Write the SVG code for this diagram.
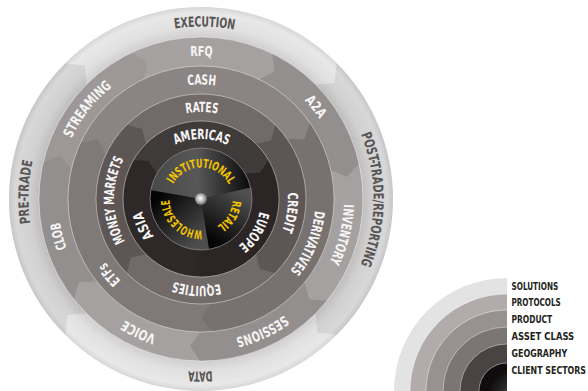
<svg xmlns="http://www.w3.org/2000/svg" xmlns:xlink="http://www.w3.org/1999/xlink" width="588" height="391" viewBox="0 0 588 391">
<style>
.t{font-family:"Liberation Sans Narrow","DejaVu Sans Condensed","Liberation Sans",sans-serif;font-weight:bold;font-size:14px;text-anchor:middle}
.w{fill:#f6f5f5}
.g{fill:#585455}
.y{fill:#f3c400;font-size:12px}
.sep{fill:none;stroke:#ffffff;stroke-opacity:.55;stroke-width:.8}
.lg{font-family:"Liberation Sans Narrow","DejaVu Sans Condensed","Liberation Sans",sans-serif;font-weight:bold;font-size:11px;fill:#231f20}
.hi{fill:#ffffff;fill-opacity:.09}
.lo{fill:#000000;fill-opacity:.06}
</style>
<defs>
<radialGradient id="g1" gradientUnits="userSpaceOnUse" cx="201" cy="199" r="192">
<stop offset="0.84" stop-color="#cbc9c9"/>
<stop offset="0.9" stop-color="#e0dfdf"/>
<stop offset="0.97" stop-color="#e7e6e6"/>
<stop offset="1" stop-color="#d4d2d2"/>
</radialGradient>
<linearGradient id="gi" gradientUnits="userSpaceOnUse" x1="-45" y1="-15" x2="48" y2="-20">
<stop offset="0" stop-color="#4a4a4a"/><stop offset="0.45" stop-color="#575757"/><stop offset="1" stop-color="#0c0c0c"/>
</linearGradient>
<linearGradient id="gr" gradientUnits="userSpaceOnUse" x1="42" y1="-6" x2="12" y2="42">
<stop offset="0" stop-color="#505050"/><stop offset="1" stop-color="#050505"/>
</linearGradient>
<linearGradient id="gw" gradientUnits="userSpaceOnUse" x1="-2" y1="44" x2="-44" y2="-2">
<stop offset="0" stop-color="#4e4e4e"/><stop offset="1" stop-color="#030303"/>
</linearGradient>
<radialGradient id="gh" cx="0.45" cy="0.45" r="0.6">
<stop offset="0" stop-color="#ffffff"/><stop offset="0.4" stop-color="#c9c9c9"/><stop offset="1" stop-color="#555555"/>
</radialGradient>
<radialGradient id="glc" gradientUnits="userSpaceOnUse" cx="520" cy="400" r="34">
<stop offset="0" stop-color="#8a8a8a"/><stop offset="0.6" stop-color="#2a2727"/><stop offset="1" stop-color="#0e0c0c"/>
</radialGradient>
<path id="c1" d="M-135.76,-135.76 A192,192 0 0 1 135.76,-135.76 L133.58,-116.12 L114.55,-114.55 A162,162 0 0 0 -114.55,-114.55 L-116.12,-133.58 Z"/>
<path id="c2" d="M-69.49,-146.34 A162,162 0 0 1 71.02,-145.6 L73.75,-127.74 L58.3,-119.54 A133,133 0 0 0 -57.05,-120.14 L-53.82,-137.33 Z"/>
<path id="c3" d="M-120.54,-56.21 A133,133 0 0 1 108.95,-76.29 L103.06,-59.5 L86.01,-60.23 A105,105 0 0 0 -95.16,-44.38 L-103.06,-59.5 Z"/>
<path id="c4" d="M-74.25,-74.25 A105,105 0 0 1 74.25,-74.25 L70.09,-58.82 L55.15,-55.15 A78,78 0 0 0 -55.15,-55.15 L-58.82,-70.09 Z"/>
<path id="c5" d="M-67.55,-39 A78,78 0 0 1 67.55,-39 L58.92,-26.23 L44.17,-25.5 A51,51 0 0 0 -44.17,-25.5 L-52.18,-37.91 Z"/>
<path id="p1" d="M201,26.5 A172.5,172.5 0 1 1 201,371.5 A172.5,172.5 0 1 1 201,26.5 A172.5,172.5 0 1 1 201,371.5 A172.5,172.5 0 1 1 201,26.5"/>
<path id="p2" d="M201,56 A143,143 0 1 1 201,342 A143,143 0 1 1 201,56 A143,143 0 1 1 201,342 A143,143 0 1 1 201,56"/>
<path id="p3" d="M201,84.5 A114.5,114.5 0 1 1 201,313.5 A114.5,114.5 0 1 1 201,84.5 A114.5,114.5 0 1 1 201,313.5 A114.5,114.5 0 1 1 201,84.5"/>
<path id="p4" d="M201,112 A87,87 0 1 1 201,286 A87,87 0 1 1 201,112 A87,87 0 1 1 201,286 A87,87 0 1 1 201,112"/>
<path id="p5" d="M201,139 A60,60 0 1 1 201,259 A60,60 0 1 1 201,139 A60,60 0 1 1 201,259 A60,60 0 1 1 201,139"/>
<path id="p6" d="M201,167.5 A31.5,31.5 0 1 1 201,230.5 A31.5,31.5 0 1 1 201,167.5 A31.5,31.5 0 1 1 201,230.5 A31.5,31.5 0 1 1 201,167.5"/>
<clipPath id="lclip"><rect x="380" y="260" width="127" height="131"/></clipPath>
</defs>

<g id="solutions">
<circle cx="201" cy="199" r="192" fill="url(#g1)"/>
<g transform="translate(201,199)">
<use href="#c1" class="hi"/><use href="#c1" class="lo" transform="rotate(90)"/><use href="#c1" class="hi" transform="rotate(180)"/><use href="#c1" class="lo" transform="rotate(270)"/>
</g>
<text class="t g"><textPath href="#p1" startOffset="1086.9" textLength="60" lengthAdjust="spacingAndGlyphs">EXECUTION</textPath></text>
<text class="t g"><textPath href="#p1" startOffset="1354.8" textLength="134" lengthAdjust="spacingAndGlyphs">POST-TRADE/REPORTING</textPath></text>
<text class="t g"><textPath href="#p1" startOffset="1625.8" textLength="24" lengthAdjust="spacingAndGlyphs">DATA</textPath></text>
<text class="t g"><textPath href="#p1" startOffset="1902.8" textLength="63" lengthAdjust="spacingAndGlyphs">PRE-TRADE</textPath></text>
</g>

<g id="protocols">
<circle cx="201" cy="199" r="162" class="sep" style="fill:#9d9897"/>
<g transform="translate(201,199)">
<use href="#c2" class="hi"/><use href="#c2" class="lo" transform="rotate(51.43)"/><use href="#c2" class="hi" transform="rotate(102.86)"/><use href="#c2" class="lo" transform="rotate(154.29)"/><use href="#c2" class="hi" transform="rotate(205.71)"/><use href="#c2" class="lo" transform="rotate(257.14)"/>
</g>
<text class="t w"><textPath href="#p2" startOffset="898.5" textLength="22" lengthAdjust="spacingAndGlyphs">RFQ</textPath></text>
<text class="t w"><textPath href="#p2" startOffset="1025.8" textLength="24" lengthAdjust="spacingAndGlyphs">A2A</textPath></text>
<text class="t w"><textPath href="#p2" startOffset="1158.1" textLength="60" lengthAdjust="spacingAndGlyphs">INVENTORY</textPath></text>
<text class="t w"><textPath href="#p2" startOffset="1285.3" textLength="54" lengthAdjust="spacingAndGlyphs">SESSIONS</textPath></text>
<text class="t w"><textPath href="#p2" startOffset="1410.1" textLength="35" lengthAdjust="spacingAndGlyphs">VOICE</textPath></text>
<text class="t w"><textPath href="#p2" startOffset="1534.9" textLength="27" lengthAdjust="spacingAndGlyphs">CLOB</textPath></text>
<text class="t w"><textPath href="#p2" startOffset="1667.2" textLength="66" lengthAdjust="spacingAndGlyphs">STREAMING</textPath></text>
</g>

<g id="product">
<circle cx="201" cy="199" r="133" class="sep" style="fill:#7f7978"/>
<g transform="translate(201,199)">
<use href="#c3" class="hi"/><use href="#c3" class="lo" transform="rotate(120)"/>
</g>
<text class="t w"><textPath href="#p3" startOffset="719.4" textLength="28" lengthAdjust="spacingAndGlyphs">CASH</textPath></text>
<text class="t w"><textPath href="#p3" startOffset="943.2" textLength="66" lengthAdjust="spacingAndGlyphs">DERIVATIVES</textPath></text>
<text class="t w"><textPath href="#p3" startOffset="1179" textLength="24" lengthAdjust="spacingAndGlyphs">ETFs</textPath></text>
</g>

<g id="asset-class">
<circle cx="201" cy="199" r="105" class="sep" style="fill:#635c5b"/>
<g transform="translate(201,199)">
<use href="#c4" class="hi"/><use href="#c4" class="lo" transform="rotate(90)"/><use href="#c4" class="hi" transform="rotate(180)"/><use href="#c4" class="lo" transform="rotate(270)"/>
</g>
<text class="t w"><textPath href="#p4" startOffset="546.6" textLength="32" lengthAdjust="spacingAndGlyphs">RATES</textPath></text>
<text class="t w"><textPath href="#p4" startOffset="695.4" textLength="39" lengthAdjust="spacingAndGlyphs">CREDIT</textPath></text>
<text class="t w"><textPath href="#p4" startOffset="823" textLength="47" lengthAdjust="spacingAndGlyphs">EQUITIES</textPath></text>
<text class="t w"><textPath href="#p4" startOffset="953.6" textLength="86" lengthAdjust="spacingAndGlyphs">MONEY MARKETS</textPath></text>
</g>

<g id="geography">
<circle cx="201" cy="199" r="78" class="sep" style="fill:#2e2828"/>
<g transform="translate(201,199)">
<use href="#c5" class="hi"/><use href="#c5" class="lo" transform="rotate(120)"/>
</g>
<text class="t w"><textPath href="#p5" startOffset="377" textLength="54" lengthAdjust="spacingAndGlyphs">AMERICAS</textPath></text>
<text class="t w"><textPath href="#p5" startOffset="503.7" textLength="41" lengthAdjust="spacingAndGlyphs">EUROPE</textPath></text>
<text class="t w"><textPath href="#p5" startOffset="632.5" textLength="28" lengthAdjust="spacingAndGlyphs">ASIA</textPath></text>
</g>

<g id="client-sectors">
<g transform="translate(201,199)">
<path d="M0,0 L-50.23,-8.86 A51,51 0 0 1 49.69,-11.47 Z" fill="url(#gi)"/>
<path d="M0,0 L49.69,-11.47 A51,51 0 0 1 7.98,50.37 Z" fill="url(#gr)"/>
<path d="M0,0 L7.98,50.37 A51,51 0 0 1 -50.23,-8.86 Z" fill="url(#gw)"/>
<circle r="51" fill="none" stroke="#8a8585" stroke-width="0.8"/>
<circle r="6" fill="url(#gh)"/>
</g>
<text class="t y"><textPath href="#p6" startOffset="197.9" textLength="68" lengthAdjust="spacingAndGlyphs">INSTITUTIONAL</textPath></text>
<text class="t y"><textPath href="#p6" startOffset="263.9" textLength="31" lengthAdjust="spacingAndGlyphs">RETAIL</textPath></text>
<text class="t y"><textPath href="#p6" startOffset="320" textLength="50" lengthAdjust="spacingAndGlyphs">WHOLESALE</textPath></text>
</g>

<g id="connectors"/>

<g id="legend">
<g clip-path="url(#lclip)">
<circle cx="507" cy="391" r="113" fill="#e4e3e3"/>
<circle cx="507" cy="391" r="97" class="sep" style="fill:#b1acab"/>
<circle cx="507" cy="391" r="81" class="sep" style="fill:#979190"/>
<circle cx="507" cy="391" r="64" class="sep" style="fill:#7b7574"/>
<circle cx="507" cy="391" r="47" class="sep" style="fill:#4a4343"/>
<circle cx="507" cy="391" r="28" class="sep" style="fill:url(#glc)"/>
</g>
<text class="lg" x="511.5" y="289.5" textLength="46.7" lengthAdjust="spacingAndGlyphs">SOLUTIONS</text>
<text class="lg" x="511.5" y="306.3" textLength="49.3" lengthAdjust="spacingAndGlyphs">PROTOCOLS</text>
<text class="lg" x="511.5" y="323.1" textLength="40.7" lengthAdjust="spacingAndGlyphs">PRODUCT</text>
<text class="lg" x="511.5" y="339.9" textLength="62.7" lengthAdjust="spacingAndGlyphs">ASSET CLASS</text>
<text class="lg" x="511.5" y="356.7" textLength="55.7" lengthAdjust="spacingAndGlyphs">GEOGRAPHY</text>
<text class="lg" x="511.5" y="373.5" textLength="74.5" lengthAdjust="spacingAndGlyphs">CLIENT SECTORS</text>
</g>
</svg>
